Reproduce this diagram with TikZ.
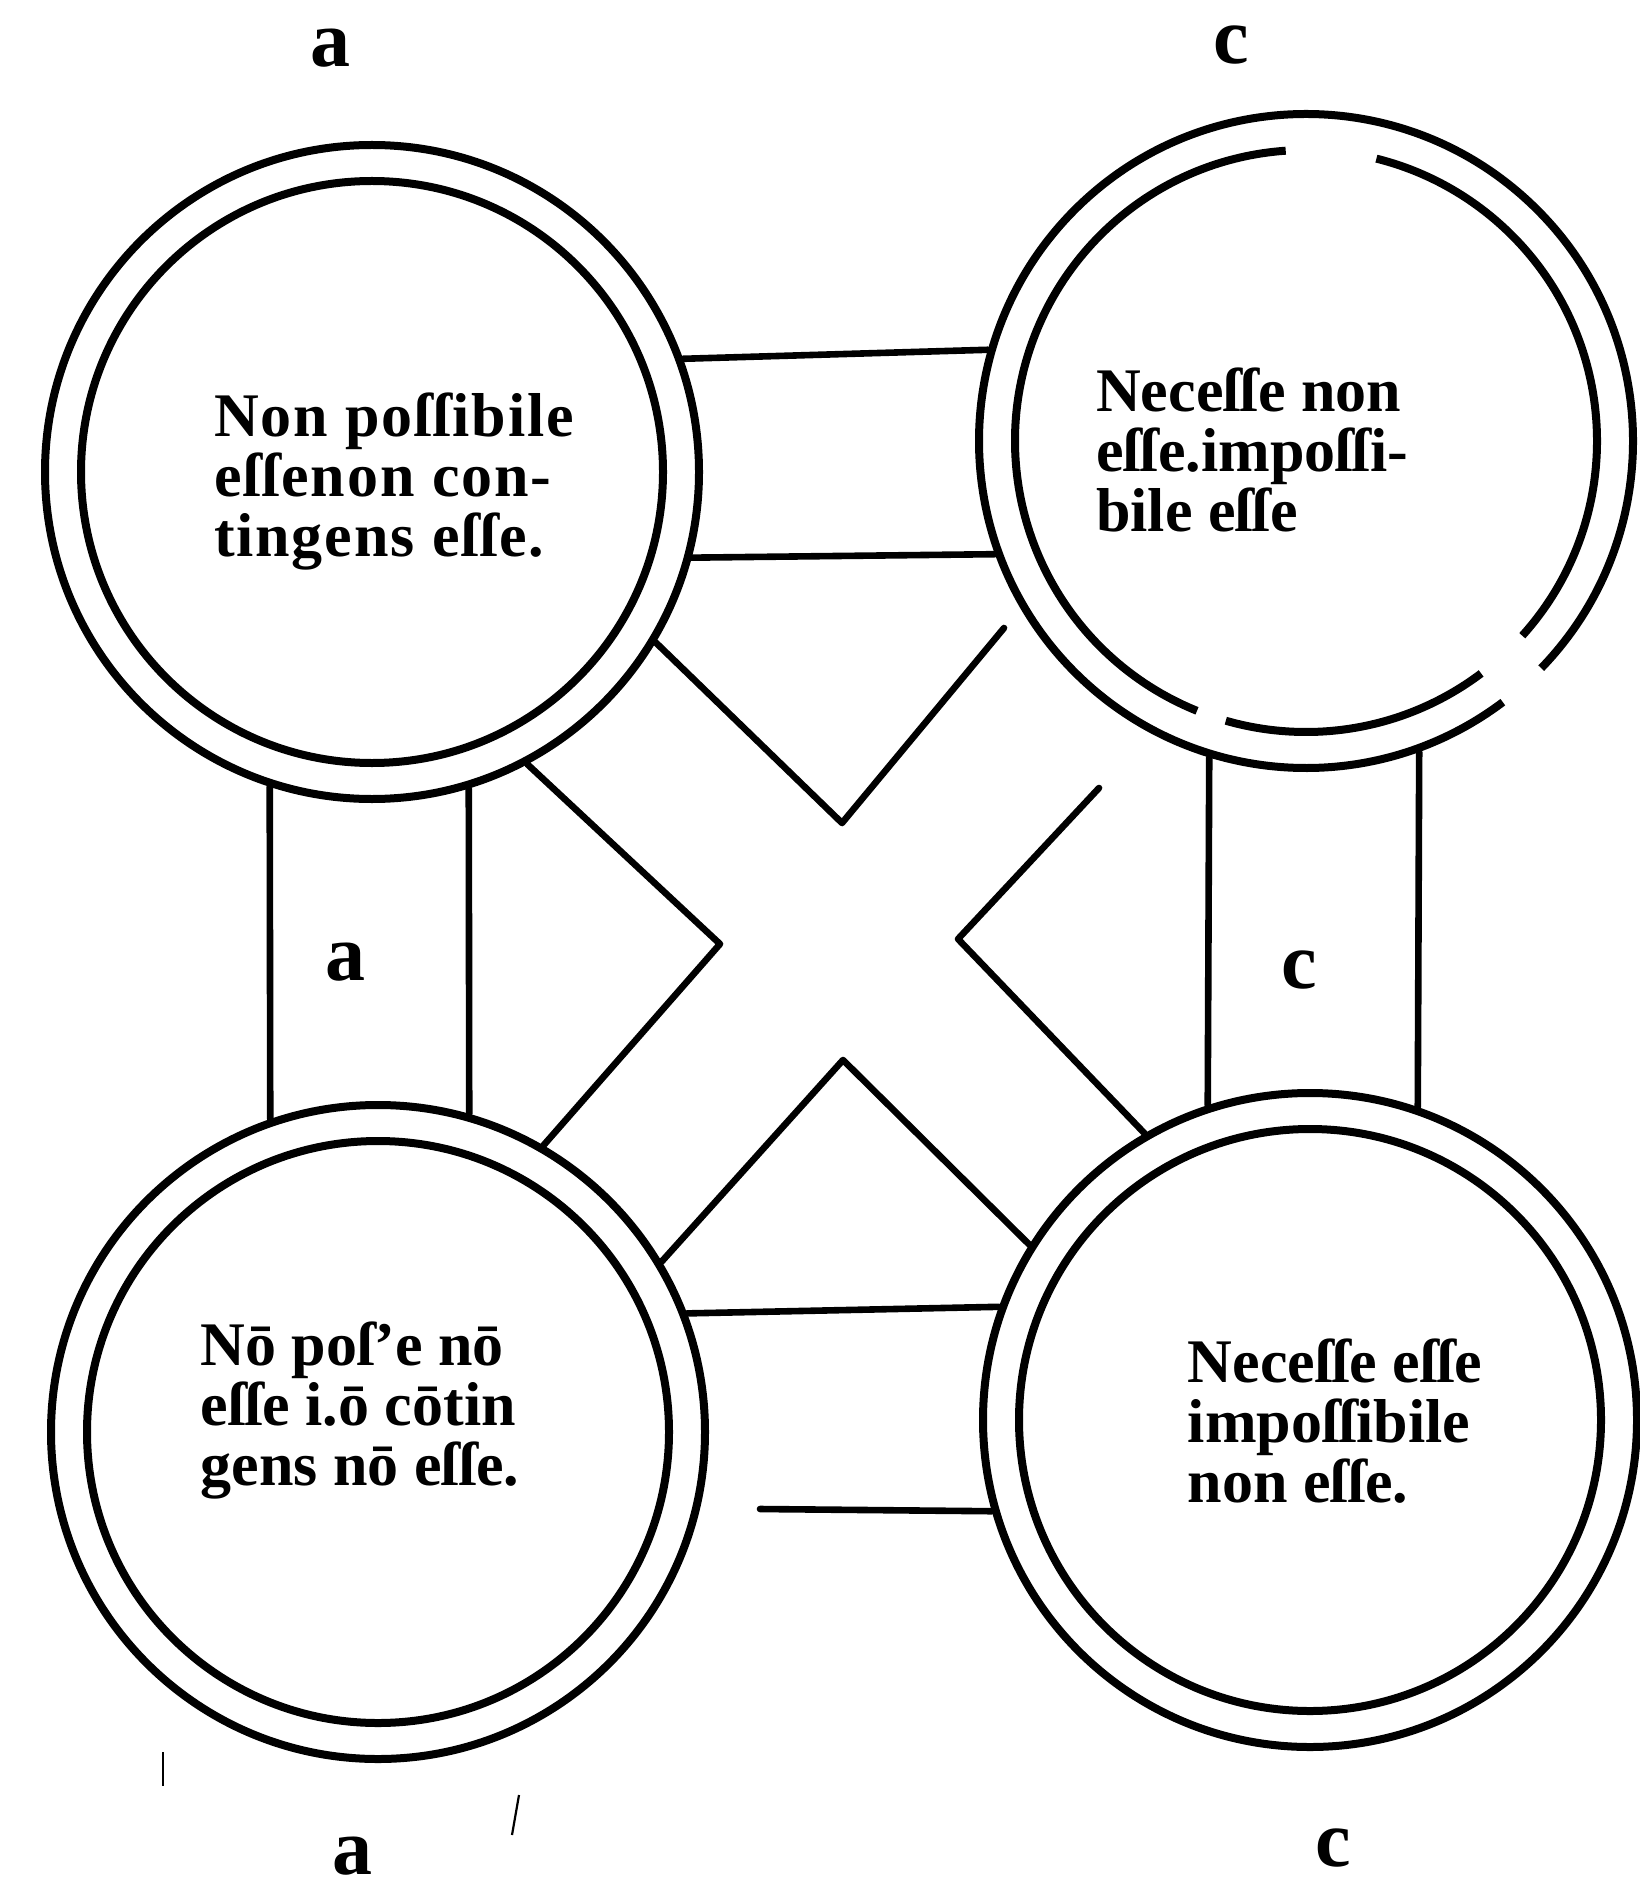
\documentclass[tikz,border=0pt]{standalone}
\usepackage{fontspec}
\setmainfont{Liberation Serif}
\begin{document}
\begin{tikzpicture}[x=0.5pt,y=-0.5pt,
  ring/.style={circle, draw, line width=4pt, minimum size=327pt, inner sep=0pt, outer sep=2pt},
  ringnd/.style={circle, minimum size=327pt, inner sep=0pt, outer sep=2pt},
  innerring/.style={line width=4pt},
  band/.style={line width=3.3pt, line cap=round, line join=round},
  txt/.style={font=\bfseries\fontsize{31}{30}\selectfont, align=left, inner sep=0pt},
  widetxt/.style={font=\bfseries\fontsize{31}{30}\selectfont\addfontfeature{LetterSpace=3}, align=left, inner sep=0pt},
  lbl/.style={font=\bfseries\fontsize{40}{40}\selectfont, inner sep=0pt},
  speck/.style={line width=1.1pt}]
\useasboundingbox[fill=white] (0,0) rectangle (1639,1893);

% circles
\node[ring] (TL) at (372,472) {};
\node[ringnd] (TR) at (1306,441) {};
\node[ring] (BL) at (378,1432) {};
\node[ring] (BR) at (1310,1420) {};
\draw[innerring] (TL.center) circle[radius=145.5pt];
\draw[innerring] (BL.center) circle[radius=145.5pt];
\draw[innerring] (BR.center) circle[radius=145.5pt];
% damaged top-right circle
\draw[innerring] (TR.center) ++(-44:163.5pt) arc[start angle=-44, end angle=307, radius=163.5pt];
\draw[innerring] (TR.center) ++(-42:145.5pt) arc[start angle=-42, end angle=76, radius=145.5pt];
\draw[innerring] (TR.center) ++(94:145.5pt) arc[start angle=94, end angle=248, radius=145.5pt];
\draw[innerring] (TR.center) ++(254:145.5pt) arc[start angle=254, end angle=307, radius=145.5pt];

% bands
\draw[band] (TL.20) -- (TR.164);
\draw[band] (TL.-15) -- (TR.200);
\draw[band] (TL.252) -- (BL.109);
\draw[band] (TL.-73) -- (BL.74);
\draw[band] (TR.253) -- (BR.108);
\draw[band] (TR.-70) -- (BR.71);
\draw[band] (BL.21) -- (BR.160);
\coordinate (bfree) at (760,1509);
\draw[band] (bfree) -- (BR.196);

% cross
\coordinate (vt) at (842,823);
\coordinate (vl) at (720,944);
\coordinate (vr) at (958,939);
\coordinate (vb) at (843,1060);
\coordinate (ft) at (1004,628);
\coordinate (fr) at (1099,788);
\draw[band] (TL.-31) -- (vt) -- (ft);
\draw[band] (TL.-62) -- (vl) -- (BL.60);
\draw[band] (fr) -- (vr) -- (BR.120);
\draw[band] (BL.31) -- (vb) -- (BR.148);

% texts
\node[widetxt] (tTL) at (394,482) {Non poſſibile\\eſſenon con-\\tingens eſſe.};
\node[txt] (tTR) at (1252,450) {Neceſſe non\\eſſe.impoſſi-\\bile eſſe};
\node[txt] (tBL) at (360,1410) {Nō poſ’e nō\\eſſe i.ō cōtin\\gens nō eſſe.};
\node[txt] (tBR) at (1335,1421) {Neceſſe eſſe\\impoſſibile\\non eſſe.};

% letters
\node[lbl] (la1) at (330,48) {a};
\node[lbl] (lc1) at (1231,45) {c};
\node[lbl] (la2) at (345,962) {a};
\node[lbl] (lc2) at (1299,970) {c};
\node[lbl] (la3) at (352,1856) {a};
\node[lbl] (lc3) at (1333,1848) {c};

% stray marks
\draw[speck] (519,1795) -- (512,1835);
\draw[speck] (163,1752) -- (163,1786);
\end{tikzpicture}
\end{document}
